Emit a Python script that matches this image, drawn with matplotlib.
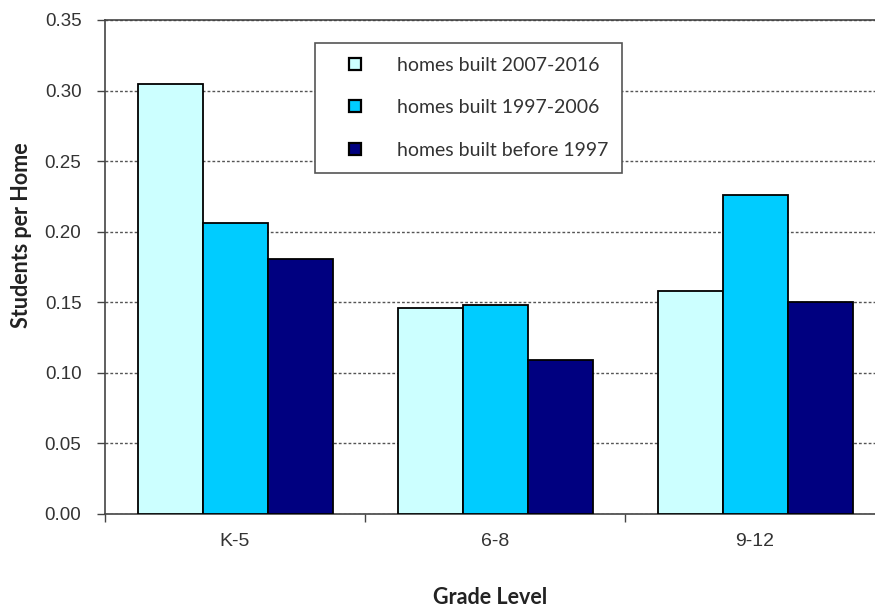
import matplotlib
matplotlib.use('Agg')
import matplotlib.pyplot as plt
from matplotlib.lines import Line2D
import numpy as np

# students per home by grade level and home age
grades = ['K-5', '6-8', '9-12']
series_labels = ['homes built 2007-2016', 'homes built 1997-2006', 'homes built before 1997']
built_2007_2016 = [0.305, 0.146, 0.158]
built_1997_2006 = [0.206, 0.148, 0.226]
built_before_1997 = [0.181, 0.109, 0.150]
y_ticks = [0.00, 0.05, 0.10, 0.15, 0.20, 0.25, 0.30, 0.35]

colors = ['#CCFFFF', '#00CCFF', '#000080']
series = [built_2007_2016, built_1997_2006, built_before_1997]

fig = plt.figure(figsize=(8.75, 6.1), dpi=100)
W, H = 875, 610
# plot area runs a little past the right edge of the figure
ax = fig.add_axes([105 / W, 1 - 514 / H, 780 / W, 494 / H])

x = np.arange(len(grades))
width = 0.25
for i, (vals, c) in enumerate(zip(series, colors)):
    ax.bar(x + (i - 1) * width, vals, width, color=c, edgecolor='black',
           linewidth=1.3, zorder=3)

ax.set_xlim(-0.5, 2.5)
ax.set_ylim(0, 0.35)
ax.set_yticks(y_ticks)
ax.set_yticklabels([f'{v:.2f}' for v in y_ticks], fontsize=13.5,
                   family='Liberation Sans', color='#333333')
ax.yaxis.grid(True, linestyle=(0, (2, 1.5)), color='#555555', linewidth=1.0, zorder=0)

ax.set_xticks(x)
ax.set_xticklabels(grades, fontsize=14, family='Liberation Sans', color='#333333')
ax.set_xticks([-0.5, 0.5, 1.5], minor=True)
ax.tick_params(axis='x', which='major', length=0, pad=14)
ax.tick_params(axis='x', which='minor', length=6, width=1, color='#444444', direction='out')
ax.tick_params(axis='y', length=6, width=1, color='#444444', direction='out', pad=11)

for s in ax.spines.values():
    s.set_color('#444444')
    s.set_linewidth(1.2)

fig.text(22 / W, 1 - 235 / H, 'Students per Home', rotation=90, ha='center', va='center',
         fontsize=15.5, fontweight='bold', family='Lato', color='#222222')
fig.text(490 / W, 1 - 597 / H, 'Grade Level', ha='center', va='center',
         fontsize=15.5, fontweight='bold', family='Lato', color='#222222')

handles = [Line2D([], [], linestyle='none', marker='s', markersize=8,
                  markerfacecolor=c, markeredgecolor='black', markeredgewidth=1.6)
           for c in colors]
leg = ax.legend(handles, series_labels, loc='upper left',
                bbox_to_anchor=((315 - 105) / 780, (514 - 43) / 494),
                frameon=True, fancybox=False, edgecolor='#555555', framealpha=1,
                prop={'family': 'Lato', 'size': 14}, handlelength=2.7,
                handletextpad=0.8, borderpad=0.72, labelspacing=1.3, borderaxespad=0)
leg.get_frame().set_linewidth(1.2)
for t in leg.get_texts():
    t.set_color('#333333')
leg.set_zorder(5)

fig.savefig('out.png', dpi=100)
